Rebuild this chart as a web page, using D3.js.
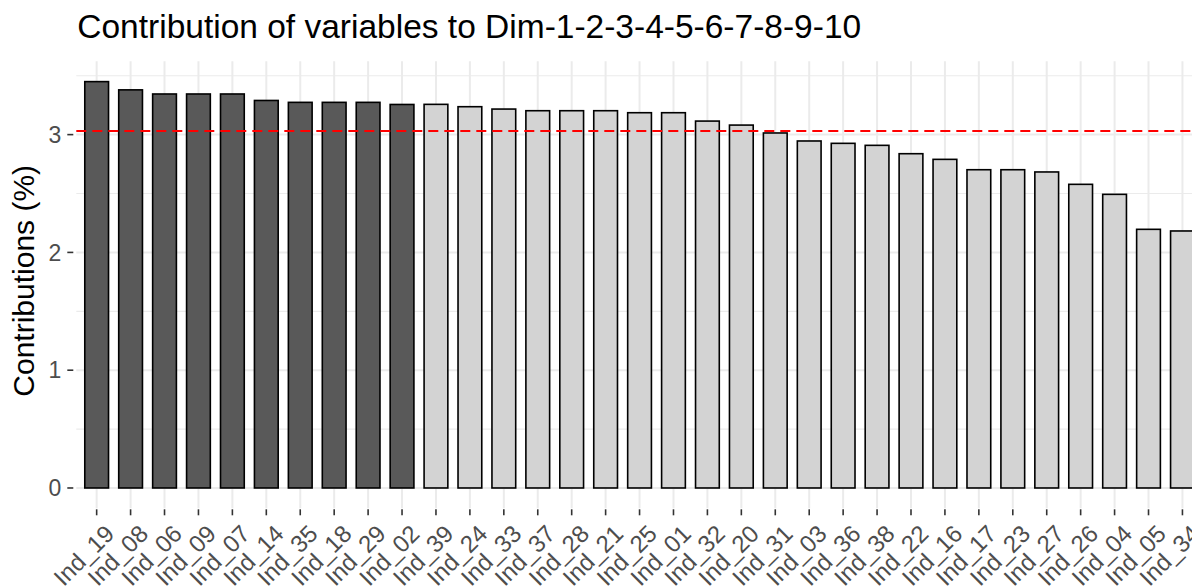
<!DOCTYPE html>
<html>
<head>
<meta charset="utf-8">
<script src="https://cdn.jsdelivr.net/npm/d3@7"></script>
<style>
  body { margin: 0; background: #fff; }
  svg { display: block; font-family: "Liberation Sans", Arial, sans-serif; }
</style>
</head>
<body>
<svg id="chart" width="1192" height="587"></svg>
<script>
// variables, sorted by contribution (%)
const names = ['Ind_19', 'Ind_08', 'Ind_06', 'Ind_09', 'Ind_07', 'Ind_14', 'Ind_35', 'Ind_18', 'Ind_29', 'Ind_02',
  'Ind_39', 'Ind_24', 'Ind_33', 'Ind_37', 'Ind_28', 'Ind_21', 'Ind_25', 'Ind_01', 'Ind_32', 'Ind_20', 'Ind_31',
  'Ind_03', 'Ind_36', 'Ind_38', 'Ind_22', 'Ind_16', 'Ind_17', 'Ind_23', 'Ind_27', 'Ind_26', 'Ind_04', 'Ind_05', 'Ind_34'];
const contrib = [3.45, 3.38, 3.345, 3.345, 3.345, 3.29, 3.274, 3.274, 3.274, 3.256,
  3.257, 3.237, 3.217, 3.203, 3.203, 3.203, 3.186, 3.186, 3.115, 3.081, 3.014,
  2.946, 2.926, 2.909, 2.838, 2.79, 2.702, 2.702, 2.683, 2.578, 2.493, 2.196, 2.182];
const topCount = 10;
const yTicks = [0, 1, 2, 3];
const yMinor = [0.5, 1.5, 2.5, 3.5];
const title = 'Contribution of variables to Dim-1-2-3-4-5-6-7-8-9-10';
const yTitle = 'Contributions (%)';

const data = names.map((n, i) => ({ name: n, value: contrib[i], top: i < topCount }));
const expected = 100 / names.length;

const PANEL = { LEFT: 76.3, RIGHT: 1202.8, TOP: 61.3, BOTTOM: 508.3 };
const svg = d3.select('#chart');

// ggplot-like discrete expansion (0.6 units) and 5% continuous expansion
const x = d3.scalePoint()
  .domain(names)
  .range([PANEL.LEFT, PANEL.RIGHT])
  .padding(0.6);
const step = x.step();
const yMax = d3.max(data, d => d.value);
const y = d3.scaleLinear()
  .domain([-0.05 * yMax, 1.05 * yMax])
  .range([PANEL.BOTTOM, PANEL.TOP]);

const grid = svg.append('g').attr('class', 'grid');
grid.selectAll('line.minor')
  .data(yMinor)
  .enter()
  .append('line')
  .attr('stroke', '#ebebeb')
  .attr('stroke-width', 1.2)
  .attr('x1', PANEL.LEFT).attr('x2', PANEL.RIGHT)
  .attr('y1', d => y(d)).attr('y2', d => y(d));
grid.selectAll('line.major')
  .data(yTicks)
  .enter()
  .append('line')
  .attr('stroke', '#ebebeb')
  .attr('stroke-width', 2)
  .attr('x1', PANEL.LEFT).attr('x2', PANEL.RIGHT)
  .attr('y1', d => y(d)).attr('y2', d => y(d));
grid.selectAll('line.vert')
  .data(names)
  .enter()
  .append('line')
  .attr('stroke', '#ebebeb')
  .attr('stroke-width', 2)
  .attr('x1', d => x(d)).attr('x2', d => x(d))
  .attr('y1', PANEL.TOP).attr('y2', PANEL.BOTTOM);

const barW = step * 0.7;
svg.append('g')
  .attr('class', 'bars')
  .selectAll('rect')
  .data(data)
  .enter()
  .append('rect')
  .attr('x', d => x(d.name) - barW / 2)
  .attr('width', barW)
  .attr('y', d => y(d.value))
  .attr('height', d => y(0) - y(d.value))
  .attr('fill', d => d.top ? '#595959' : '#d3d3d3')
  .attr('stroke', 'black')
  .attr('stroke-width', 1.6);

svg.append('line')
  .attr('stroke', 'red')
  .attr('stroke-width', 2)
  .attr('stroke-dasharray', '10,6')
  .attr('x1', PANEL.LEFT).attr('x2', PANEL.RIGHT)
  .attr('y1', y(expected)).attr('y2', y(expected));

// y axis
const yAxis = svg.append('g').attr('class', 'y-axis');
yAxis.selectAll('line')
  .data(yTicks)
  .enter()
  .append('line')
  .attr('stroke', '#333')
  .attr('stroke-width', 1.6)
  .attr('x1', PANEL.LEFT - 9).attr('x2', PANEL.LEFT - 3)
  .attr('y1', d => y(d)).attr('y2', d => y(d));
yAxis.selectAll('text')
  .data(yTicks)
  .enter()
  .append('text')
  .attr('x', PANEL.LEFT - 15)
  .attr('y', d => y(d))
  .attr('dy', '0.36em')
  .attr('text-anchor', 'end')
  .attr('fill', '#4d4d4d')
  .style('font-size', '23px')
  .text(d => d);

// x axis
const xAxis = svg.append('g').attr('class', 'x-axis');
xAxis.selectAll('line')
  .data(names)
  .enter()
  .append('line')
  .attr('stroke', '#333')
  .attr('stroke-width', 1.6)
  .attr('x1', d => x(d)).attr('x2', d => x(d))
  .attr('y1', PANEL.BOTTOM + 1).attr('y2', PANEL.BOTTOM + 7);
xAxis.selectAll('text')
  .data(names)
  .enter()
  .append('text')
  .attr('text-anchor', 'end')
  .attr('fill', '#4d4d4d')
  .style('font-size', '24px')
  .attr('transform', d => `translate(${x(d) + 19},${PANEL.BOTTOM + 27}) rotate(-45)`)
  .text(d => d);

svg.append('text')
  .attr('transform', `translate(34,${(PANEL.TOP + PANEL.BOTTOM) / 2 - 4}) rotate(-90)`)
  .attr('text-anchor', 'middle')
  .attr('fill', 'black')
  .style('font-size', '30px')
  .text(yTitle);

svg.append('text')
  .attr('x', PANEL.LEFT + 1)
  .attr('y', 38)
  .attr('fill', 'black')
  .style('font-size', '33.5px')
  .text(title);
</script>
</body>
</html>
